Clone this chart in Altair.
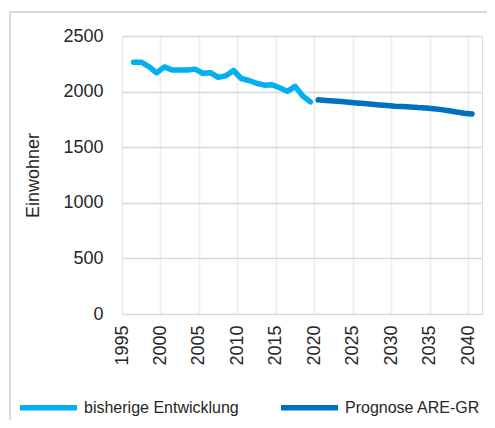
import altair as alt
import pandas as pd

hist_years = list(range(1996, 2020))
hist_values = [2265, 2265, 2225, 2168, 2222, 2195, 2195, 2195, 2202, 2165,
               2170, 2128, 2142, 2190, 2118, 2100, 2075, 2058, 2062, 2035,
               2002, 2047, 1960, 1908]
prog_years = list(range(2020, 2041))
prog_values = [1926, 1921, 1916, 1910, 1904, 1898, 1892, 1886, 1880, 1874,
               1869, 1866, 1861, 1856, 1853, 1846, 1838, 1828, 1816, 1806, 1798]
series_names = ["bisherige Entwicklung", "Prognose ARE-GR"]
series_colors = ["#00B0F0", "#0070C0"]
x_ticks = list(range(1995, 2041, 5))
y_ticks = [0, 500, 1000, 1500, 2000, 2500]

df = pd.concat([
    pd.DataFrame({"Jahr": hist_years, "Einwohner": hist_values, "Reihe": series_names[0]}),
    pd.DataFrame({"Jahr": prog_years, "Einwohner": prog_values, "Reihe": series_names[1]}),
])

FONT = "Liberation Sans"
TXT = "#262626"

lines = alt.Chart(df).transform_calculate(
    pos="datum.Jahr + 0.5"
).mark_line(strokeWidth=5.5, strokeCap="round", strokeJoin="round").encode(
    x=alt.X("pos:Q", scale=alt.Scale(domain=[1995, 2041.8], nice=False, zero=False),
            axis=alt.Axis(values=x_ticks, format="d", labelAngle=270, labelAlign="right",
                          labelBaseline="middle", labelPadding=11, ticks=False, domain=False,
                          gridColor="#ececec", gridWidth=1.5, title=None, labelFontSize=18,
                          labelColor=TXT, labelFont=FONT)),
    y=alt.Y("Einwohner:Q", scale=alt.Scale(domain=[0, 2500], nice=False),
            axis=alt.Axis(values=y_ticks, format="d", ticks=False, domain=False, labelPadding=19,
                          gridColor="#d9d9d9", gridWidth=1.5, title="Einwohner",
                          titleAngle=270, titleX=-89, titleY=139, titleAlign="center",
                          titleBaseline="middle", titleFontWeight="normal", titleFontSize=18,
                          titleColor=TXT, titleFont=FONT, labelFontSize=18,
                          labelColor=TXT, labelFont=FONT)),
    color=alt.Color("Reihe:N", scale=alt.Scale(domain=series_names, range=series_colors),
                    legend=alt.Legend(title=None, orient="none", legendX=-105, legendY=340,
                                      direction="horizontal", symbolType="stroke",
                                      symbolSize=3249, symbolStrokeWidth=5.5,
                                      labelFontSize=16, labelFont=FONT, labelColor=TXT,
                                      labelLimit=400, labelOffset=4, columnPadding=31)),
)

border = alt.Chart(pd.DataFrame({"a": [0]})).mark_rect(
    fill=None, stroke="#d9d9d9", strokeWidth=2, clip=False
).encode(x=alt.value(-112), x2=alt.value(420), y=alt.value(-24), y2=alt.value(420))

chart = alt.layer(border, lines).properties(
    width=360, height=278,
    padding={"left": 114, "top": 28, "right": 5, "bottom": 106},
    autosize=alt.AutoSizeParams(type="none"),
).configure_view(stroke=None).configure(font=FONT)

chart.save("out.html", embed_options={"renderer": "svg", "actions": False})
